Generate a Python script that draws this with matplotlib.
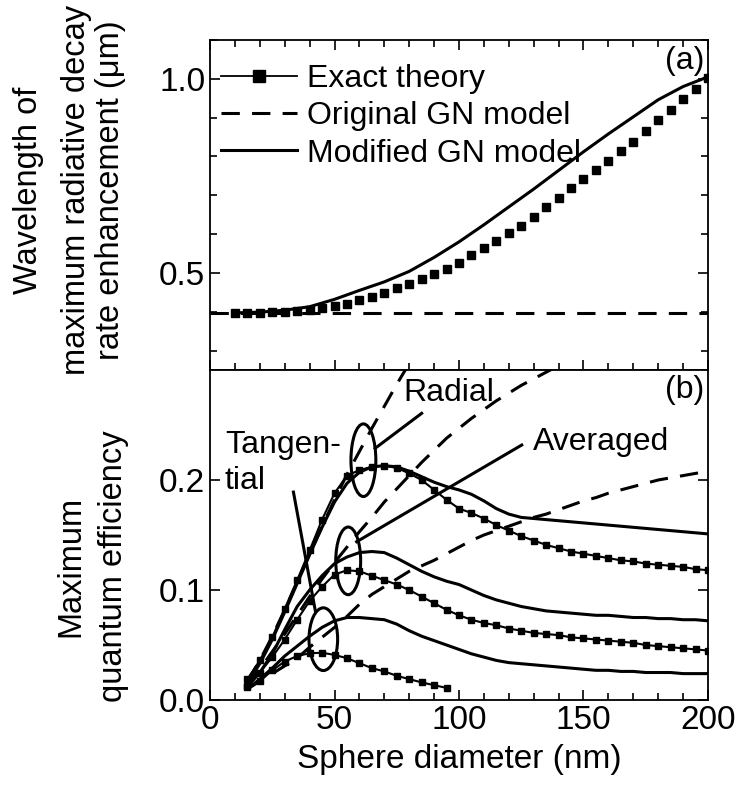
import matplotlib
matplotlib.use("Agg")
import matplotlib.pyplot as plt
from matplotlib.patches import Ellipse
from matplotlib.lines import Line2D
from matplotlib.ticker import MultipleLocator, FixedLocator

plt.rcParams["font.family"] = ["Liberation Sans", "DejaVu Sans"]

# (a) wavelength of maximum radiative decay rate enhancement (um)
x_top = list(range(10, 205, 5))
exact_top = [0.397, 0.397, 0.398, 0.399, 0.400, 0.402, 0.405, 0.409, 0.415, 0.421,
             0.429, 0.438, 0.448, 0.460, 0.472, 0.485, 0.498, 0.511, 0.526, 0.545,
             0.564, 0.583, 0.602, 0.621, 0.644, 0.669, 0.693, 0.718, 0.742, 0.766,
             0.789, 0.813, 0.838, 0.866, 0.893, 0.920, 0.948, 0.974, 1.002]
x_mod_top = [10, 20, 30, 40, 50, 60, 70, 80, 90, 100, 110, 120, 130, 140, 150,
             160, 170, 180, 190, 200]
mod_top = [0.397, 0.399, 0.404, 0.413, 0.432, 0.455, 0.477, 0.504, 0.540, 0.580,
           0.624, 0.670, 0.716, 0.764, 0.812, 0.858, 0.902, 0.946, 0.980, 1.005]
x_orig_top = [0, 200]
orig_top = [0.397, 0.397]

# (b) maximum quantum efficiency
x_b = list(range(15, 205, 5))
radial_exact = [0.019, 0.036, 0.057, 0.083, 0.109, 0.136, 0.164, 0.188, 0.204, 0.209,
                0.212, 0.213, 0.211, 0.206, 0.200, 0.191, 0.182, 0.174, 0.170, 0.165,
                0.159, 0.154, 0.149, 0.145, 0.141, 0.138, 0.135, 0.133, 0.131, 0.129,
                0.127, 0.126, 0.124, 0.123, 0.122, 0.121, 0.119, 0.118]
radial_mod = [0.016, 0.033, 0.055, 0.080, 0.106, 0.132, 0.157, 0.180, 0.197, 0.207,
              0.212, 0.213, 0.212, 0.208, 0.203, 0.198, 0.194, 0.191, 0.187, 0.181,
              0.174, 0.169, 0.166, 0.165, 0.164, 0.163, 0.162, 0.161, 0.160, 0.159,
              0.158, 0.157, 0.156, 0.155, 0.154, 0.153, 0.152, 0.151]
x_radial_gn = list(range(15, 85, 5))
radial_gn = [0.017, 0.036, 0.058, 0.082, 0.107, 0.133, 0.158, 0.182, 0.205, 0.226,
             0.247, 0.267, 0.287, 0.306]

avg_exact = [0.013, 0.025, 0.039, 0.055, 0.073, 0.090, 0.103, 0.114, 0.118, 0.117,
             0.113, 0.109, 0.105, 0.100, 0.094, 0.088, 0.082, 0.077, 0.073, 0.070,
             0.068, 0.065, 0.063, 0.061, 0.060, 0.059, 0.057, 0.056, 0.055, 0.054,
             0.053, 0.052, 0.050, 0.049, 0.048, 0.047, 0.046, 0.045]
avg_mod = [0.012, 0.025, 0.042, 0.064, 0.085, 0.100, 0.113, 0.124, 0.130, 0.134,
           0.135, 0.134, 0.129, 0.123, 0.117, 0.112, 0.108, 0.105, 0.100, 0.095,
           0.091, 0.088, 0.085, 0.083, 0.081, 0.080, 0.079, 0.078, 0.077, 0.077,
           0.076, 0.075, 0.075, 0.074, 0.074, 0.073, 0.073, 0.072]
x_avg_gn = list(range(15, 145, 5))
avg_gn = [0.014, 0.028, 0.044, 0.060, 0.077, 0.094, 0.110, 0.125, 0.139, 0.153,
          0.166, 0.180, 0.192, 0.204, 0.216, 0.227, 0.238, 0.247, 0.256, 0.264,
          0.272, 0.279, 0.286, 0.292, 0.298, 0.304]

x_tan_exact = list(range(15, 100, 5))
tan_exact = [0.012, 0.017, 0.027, 0.035, 0.040, 0.0425, 0.043, 0.041, 0.038, 0.0335,
             0.029, 0.026, 0.022, 0.019, 0.016, 0.0135, 0.011]
tan_mod = [0.010, 0.019, 0.029, 0.040, 0.049, 0.058, 0.066, 0.072, 0.075, 0.075,
           0.074, 0.073, 0.069, 0.063, 0.058, 0.054, 0.050, 0.046, 0.042, 0.039,
           0.036, 0.034, 0.033, 0.032, 0.031, 0.030, 0.029, 0.028, 0.027, 0.027,
           0.026, 0.026, 0.025, 0.025, 0.025, 0.024, 0.024, 0.024]
tan_gn = [0.010, 0.017, 0.024, 0.031, 0.038, 0.048, 0.057, 0.066, 0.076, 0.087,
          0.096, 0.103, 0.110, 0.117, 0.122, 0.127, 0.133, 0.139, 0.145, 0.150,
          0.154, 0.158, 0.162, 0.166, 0.169, 0.173, 0.177, 0.181, 0.184, 0.188,
          0.191, 0.194, 0.197, 0.200, 0.202, 0.204, 0.206, 0.208]

LW = 2.2
DASH = (0, (6, 4))
FS = 23

fig, (ax1, ax2) = plt.subplots(2, 1, sharex=True, figsize=(7.38, 7.90), dpi=100)
fig.subplots_adjust(left=0.2846, right=0.9593, top=0.9494, bottom=0.1139, hspace=0)

# --- panel (a)
ax1.plot(x_top, exact_top, ls="none", marker="s", ms=6, color="black")
ax1.plot(x_orig_top, orig_top, color="black", lw=LW, ls=DASH)
ax1.plot(x_mod_top, mod_top, color="black", lw=LW)
ax1.set_ylim(0.25, 1.1)
ax1.yaxis.set_major_locator(MultipleLocator(0.5))
ax1.yaxis.set_minor_locator(MultipleLocator(0.1))
ax1.text(198.5, 1.045, "(a)", ha="right", va="center", fontsize=FS)

handles = [
    Line2D([], [], color="black", lw=1.3, marker="s", ms=9),
    Line2D([], [], color="black", lw=LW, ls=DASH),
    Line2D([], [], color="black", lw=LW),
]
ax1.legend(handles, ["Exact theory", "Original GN model", "Modified GN model"],
           loc="upper left", bbox_to_anchor=(-0.027, 1.0), frameon=False,
           fontsize=FS, handlelength=2.4, handletextpad=0.3, labelspacing=0.23,
           borderaxespad=0.45, borderpad=0.3)

# --- panel (b)
ax2.plot(x_b, radial_exact, color="black", lw=1.5, marker="s", ms=5)
ax2.plot(x_b, radial_mod, color="black", lw=LW)
ax2.plot(x_radial_gn, radial_gn, color="black", lw=LW, ls=DASH)
ax2.plot(x_b, avg_exact, color="black", lw=1.5, marker="s", ms=5)
ax2.plot(x_b, avg_mod, color="black", lw=LW)
ax2.plot(x_avg_gn, avg_gn, color="black", lw=LW, ls=DASH)
ax2.plot(x_tan_exact, tan_exact, color="black", lw=1.5, marker="s", ms=5)
ax2.plot(x_b, tan_mod, color="black", lw=LW)
ax2.plot(x_b, tan_gn, color="black", lw=LW, ls=DASH)

ax2.set_xlim(0, 200)
ax2.set_ylim(0, 0.3)
ax2.xaxis.set_major_locator(MultipleLocator(50))
ax2.xaxis.set_minor_locator(MultipleLocator(10))
ax2.yaxis.set_major_locator(FixedLocator([0.0, 0.1, 0.2]))

for (cx, cy, w, h) in [(61.6, 0.218, 10, 0.066), (55.5, 0.1265, 10, 0.0615),
                       (45.5, 0.0553, 11.5, 0.057)]:
    ax2.add_patch(Ellipse((cx, cy), w, h, fill=False, lw=LW, color="black"))

ax2.plot([66.3, 85.0], [0.2288, 0.2606], color="black", lw=LW)
ax2.plot([58.9, 125.2], [0.1439, 0.2318], color="black", lw=LW)
ax2.plot([33.5, 42.3], [0.189, 0.081], color="black", lw=LW)

ax2.text(77.5, 0.279, "Radial", ha="left", va="center", fontsize=FS)
ax2.text(129.7, 0.2345, "Averaged", ha="left", va="center", fontsize=FS)
ax2.text(6, 0.2155, "Tangen-\ntial", ha="left", va="center", fontsize=FS,
         linespacing=1.25)
ax2.text(198.5, 0.282, "(b)", ha="right", va="center", fontsize=FS)

ax2.set_xlabel("Sphere diameter (nm)", fontsize=24, labelpad=6)

for ax in (ax1, ax2):
    ax.tick_params(which="both", direction="in", right=True, width=1.2,
                   labelsize=24)
    ax.tick_params(which="major", length=7)
    ax.tick_params(which="minor", length=5)
    for s in ax.spines.values():
        s.set_linewidth(1.3)
ax1.tick_params(which="both", top=True, bottom=True, labelbottom=False)
ax2.tick_params(which="both", top=False)

# y labels, one text per line (column centres)
ylab_top = ["Wavelength of", "maximum radiative decay", "rate enhancement (\u03bcm)"]
ylab_top_x = [0.0386, 0.1037, 0.1497]
for txt, xf in zip(ylab_top, ylab_top_x):
    fig.text(xf, 0.7595, txt, rotation=90, ha="center", va="center", fontsize=23.5)

ylab_bot = ["Maximum", "quantum efficiency"]
ylab_bot_x = [0.0955, 0.1538]
for txt, xf in zip(ylab_bot, ylab_bot_x):
    fig.text(xf, 0.2835, txt, rotation=90, ha="center", va="center", fontsize=23.5)

fig.savefig("out.png", dpi=100)
